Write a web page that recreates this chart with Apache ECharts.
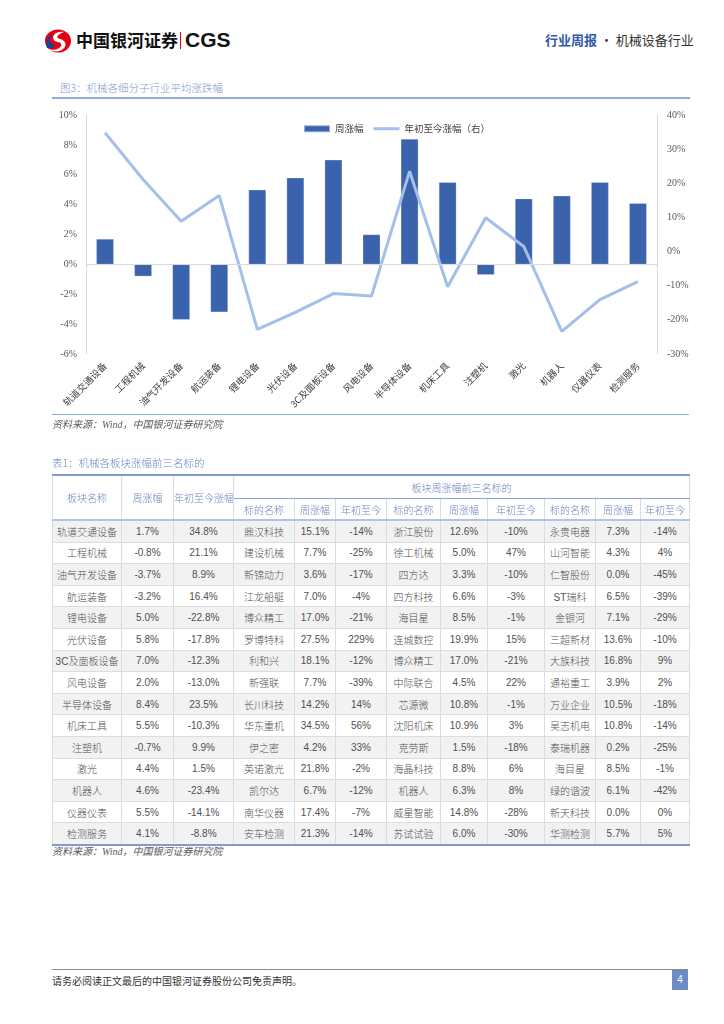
<!DOCTYPE html>
<html>
<head>
<meta charset="utf-8">
<script src="https://cdn.jsdelivr.net/npm/echarts@6/dist/echarts.min.js"></script>
<style>
  html, body { margin: 0; padding: 0; background: #fff; }
  body { width: 724px; height: 1024px; position: relative; overflow: hidden;
         font-family: "Liberation Sans", "Noto Sans CJK SC", sans-serif; }
  .abs { position: absolute; white-space: nowrap; }
  #chart { position: absolute; left: 0; top: 100px; width: 724px; height: 320px; }
  table { position: absolute; left: 52px; top: 474px; border-collapse: collapse; table-layout: fixed;
          width: 637px; font-size: 10px; color: #505050; font-weight: 300; }
  td, th { border: 1px solid #dcdcdc; text-align: center; padding: 0; overflow: hidden; white-space: nowrap; font-weight: 300; }
  thead th { color: #6e86bd; background: #fff; }
  thead tr.r1 th { height: 22px; }
  thead tr.r2 th { height: 20px; border-top: 1px solid #8ea6d6; }
  thead tr.r1 th.grp { border-bottom: 1px solid #8ea6d6; }
  thead tr.r1 { border-top: 2px solid #7f9bd0; }
  tbody tr:first-child td { border-top: 2px solid #b3c3e3; }
  tbody td { height: 20.6px; }
  tbody tr:nth-child(odd) td { background: #f2f2f2; }
  tbody tr:last-child td { border-bottom: 2px solid #7f9bd0; }
</style>
</head>
<body>
<!-- header -->
<svg class="abs" style="left:44px;top:29px" width="28" height="24" viewBox="0 0 28 24">
  <ellipse cx="14" cy="12" rx="13" ry="11.5" fill="#e60012"/>
  <path d="M20 3 C12 2 7 7 10 11 C12 14 19 12 17 17 C15 21 8 22 3 19 C6 23 14 24 19 20 C24 16 21 11 16 10 C12 9 12 6 20 3 Z" fill="#fff"/>
  <path d="M3 19 C1 14 3 8 8 5 C5 9 5 13 9 15 C12 17 11 20 3 19 Z" fill="#1d3f94"/>
</svg>
<div class="abs" style="left:76px;top:29px;font-size:17px;font-weight:bold;color:#111;font-family:'Noto Sans CJK SC';line-height:22px">中国银河证券</div>
<div class="abs" style="left:180px;top:32px;width:1px;height:17px;background:#e60012"></div>
<div class="abs" style="left:185px;top:27px;font-size:21px;font-weight:bold;color:#111;font-family:'Liberation Sans';line-height:26px">CGS</div>
<div class="abs" style="left:545px;top:31px;font-size:13px;line-height:18px;font-family:'Noto Sans CJK SC'">
  <span style="color:#2f5aa6;font-weight:bold">行业周报</span><span style="color:#333"> · 机械设备行业</span>
</div>

<!-- chart title -->
<div class="abs" style="left:60px;top:81px;font-size:10.5px;color:#8397c9;font-weight:300;font-family:'Noto Sans CJK SC';line-height:14px">图3：机械各细分子行业平均涨跌幅</div>
<div class="abs" style="left:52px;top:97px;width:638px;height:1.5px;background:#8faadc"></div>

<div id="chart"></div>

<div class="abs" style="left:52px;top:414px;width:637px;height:1px;background:#8faadc"></div>
<div class="abs" style="left:52px;top:418px;font-size:10px;color:#595959;font-style:italic;line-height:14px;font-family:'Liberation Serif','Noto Sans CJK SC'">资料来源：Wind，中国银河证券研究院</div>

<!-- table -->
<div class="abs" style="left:52px;top:456px;font-size:10.5px;color:#6f86c0;font-weight:300;font-family:'Noto Sans CJK SC';line-height:14px">表1：机械各板块涨幅前三名标的</div>
<table id="tbl">
  <colgroup>
    <col style="width:69px"><col style="width:52px"><col style="width:60px">
    <col style="width:61px"><col style="width:41px"><col style="width:51px">
    <col style="width:54px"><col style="width:47px"><col style="width:57px">
    <col style="width:51px"><col style="width:45px"><col style="width:49px">
  </colgroup>
  <thead>
    <tr class="r1">
      <th rowspan="2">板块名称</th><th rowspan="2">周涨幅</th><th rowspan="2">年初至今涨幅</th>
      <th colspan="9" class="grp">板块周涨幅前三名标的</th>
    </tr>
    <tr class="r2">
      <th>标的名称</th><th>周涨幅</th><th>年初至今</th>
      <th>标的名称</th><th>周涨幅</th><th>年初至今</th>
      <th>标的名称</th><th>周涨幅</th><th>年初至今</th>
    </tr>
  </thead>
  <tbody id="tbody"></tbody>
</table>
<div class="abs" style="left:52px;top:845px;font-size:10px;color:#595959;font-style:italic;line-height:14px;font-family:'Liberation Serif','Noto Sans CJK SC'">资料来源：Wind，中国银河证券研究院</div>

<!-- footer -->
<div class="abs" style="left:52px;top:969px;width:636px;height:1px;background:#8a8a8a"></div>
<div class="abs" style="left:52px;top:974px;font-size:10px;color:#333;font-family:'Noto Sans CJK SC';line-height:14px">请务必阅读正文最后的中国银河证券股份公司免责声明。</div>
<div class="abs" style="left:672px;top:970px;width:16px;height:20px;background:#6f8cc6;color:#fff;font-size:10px;line-height:20px;text-align:center">4</div>

<script>
// ---- chart data ----
const categories = ['轨道交通设备','工程机械','油气开发设备','航运装备','锂电设备','光伏设备','3C及面板设备','风电设备','半导体设备','机床工具','注塑机','激光','机器人','仪器仪表','检测服务'];
const weeklyChange = [1.7, -0.8, -3.7, -3.2, 5.0, 5.8, 7.0, 2.0, 8.4, 5.5, -0.7, 4.4, 4.6, 5.5, 4.1];
const ytdChange = [34.8, 21.1, 8.9, 16.4, -22.8, -17.8, -12.3, -13.0, 23.5, -10.3, 9.9, 1.5, -23.4, -14.1, -8.8];
const leftTicks = { min: -6, max: 10, interval: 2 };
const rightTicks = { min: -30, max: 40, interval: 10 };

// ---- table data ----
const weeklyText = ['1.7%','-0.8%','-3.7%','-3.2%','5.0%','5.8%','7.0%','2.0%','8.4%','5.5%','-0.7%','4.4%','4.6%','5.5%','4.1%'];
const ytdText = ['34.8%','21.1%','8.9%','16.4%','-22.8%','-17.8%','-12.3%','-13.0%','23.5%','-10.3%','9.9%','1.5%','-23.4%','-14.1%','-8.8%'];
const top1 = [['鼎汉科技','15.1%','-14%'],['建设机械','7.7%','-25%'],['新锦动力','3.6%','-17%'],['江龙船艇','7.0%','-4%'],['博众精工','17.0%','-21%'],['罗博特科','27.5%','229%'],['利和兴','18.1%','-12%'],['新强联','7.7%','-39%'],['长川科技','14.2%','14%'],['华东重机','34.5%','56%'],['伊之密','4.2%','33%'],['英诺激光','21.8%','-2%'],['凯尔达','6.7%','-12%'],['南华仪器','17.4%','-7%'],['安车检测','21.3%','-14%']];
const top2 = [['浙江股份','12.6%','-10%'],['徐工机械','5.0%','47%'],['四方达','3.3%','-10%'],['四方科技','6.6%','-3%'],['海目星','8.5%','-1%'],['连城数控','19.9%','15%'],['博众精工','17.0%','-21%'],['中际联合','4.5%','22%'],['芯源微','10.8%','-1%'],['沈阳机床','10.9%','3%'],['克劳斯','1.5%','-18%'],['海晶科技','8.8%','6%'],['机器人','6.3%','8%'],['威星智能','14.8%','-28%'],['苏试试验','6.0%','-30%']];
const top3 = [['永贵电器','7.3%','-14%'],['山河智能','4.3%','4%'],['仁智股份','0.0%','-45%'],['ST瑞科','6.5%','-39%'],['金银河','7.1%','-29%'],['三超新材','13.6%','-10%'],['大族科技','16.8%','9%'],['通裕重工','3.9%','2%'],['万业企业','10.5%','-18%'],['吴志机电','10.8%','-14%'],['泰瑞机器','0.2%','-25%'],['海目星','8.5%','-1%'],['绿的谐波','6.1%','-42%'],['新天科技','0.0%','0%'],['华测检测','5.7%','5%']];

const tbody = document.getElementById('tbody');
categories.forEach((c, i) => {
  const cells = [c, weeklyText[i], ytdText[i], ...top1[i], ...top2[i], ...top3[i]];
  const tr = document.createElement('tr');
  cells.forEach(v => { const td = document.createElement('td'); td.textContent = v; tr.appendChild(td); });
  tbody.appendChild(tr);
});

const chart = echarts.init(document.getElementById('chart'));
const axisFont = { fontFamily: 'Liberation Serif', fontSize: 10, color: '#595959' };
chart.setOption({
  animation: false,
  textStyle: { fontFamily: 'Liberation Serif, Noto Sans CJK SC' },
  grid: { left: 86, right: 67, top: 15, height: 239 },
  legend: {
    left: 298, top: 19, itemWidth: 26, itemHeight: 7, itemGap: 10,
    textStyle: { fontSize: 9.5, color: '#404040', fontFamily: 'Noto Sans CJK SC' },
    data: [{ name: '周涨幅', icon: 'rect' },
           { name: '年初至今涨幅（右）', icon: 'path://M0,0H26V3H0Z' }]
  },
  xAxis: {
    type: 'category', data: categories,
    axisLine: { show: false, onZero: false },
    axisTick: { show: false },
    axisLabel: { interval: 0, rotate: 45, margin: 10, fontSize: 9.5, color: '#404040', fontFamily: 'Noto Sans CJK SC' }
  },
  yAxis: [
    { type: 'value', min: leftTicks.min, max: leftTicks.max, interval: leftTicks.interval,
      axisLine: { show: true, lineStyle: { color: '#d9d9d9' } }, axisTick: { show: false },
      splitLine: { show: false },
      axisLabel: Object.assign({ formatter: '{value}%', margin: 9 }, axisFont) },
    { type: 'value', min: rightTicks.min, max: rightTicks.max, interval: rightTicks.interval,
      axisLine: { show: true, lineStyle: { color: '#d9d9d9' } }, axisTick: { show: false },
      splitLine: { show: false },
      axisLabel: Object.assign({ formatter: '{value}%', margin: 10 }, axisFont) }
  ],
  series: [
    { name: '周涨幅', type: 'bar', data: weeklyChange, barWidth: 17.5, yAxisIndex: 0,
      itemStyle: { color: '#3a62ad', borderColor: 'rgba(255,255,255,0.5)', borderWidth: 0.5 },
      markLine: { silent: true, symbol: 'none', label: { show: false },
        lineStyle: { color: '#d9d9d9', type: 'solid', width: 1 }, data: [{ yAxis: 0 }] } },
    { name: '年初至今涨幅（右）', type: 'line', data: ytdChange, yAxisIndex: 1, symbol: 'none',
      lineStyle: { color: '#a4bfe9', width: 3 }, itemStyle: { color: '#a4bfe9' }, z: 3 }
  ]
});
</script>
</body>
</html>
